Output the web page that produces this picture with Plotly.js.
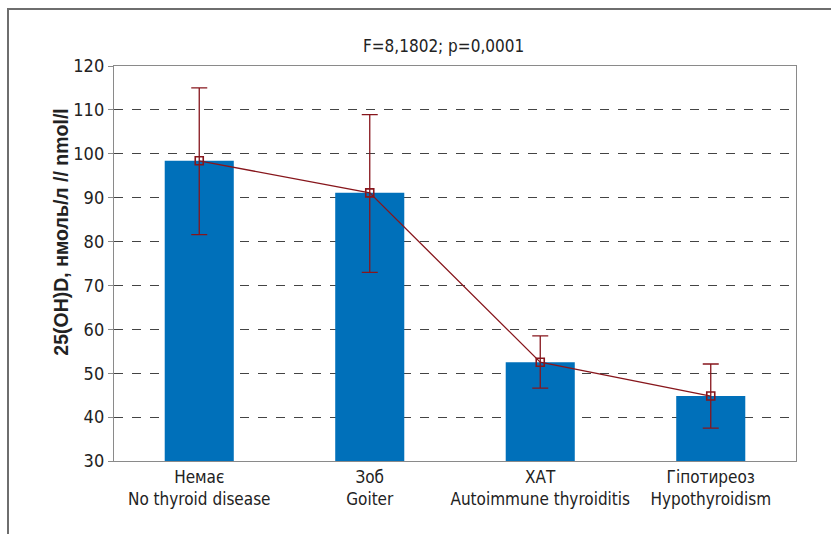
<!DOCTYPE html>
<html>
<head>
<meta charset="utf-8">
<script src="https://cdn.plot.ly/plotly-3.0.1.min.js"></script>
<style>
  html, body { margin: 0; padding: 0; background: #fff; }
  #wrap { position: relative; width: 831px; height: 534px; overflow: hidden; }
  #frame { position: absolute; left: 7px; top: 8px; width: 840px; height: 600px;
           border-top: 2px solid #6e6e6e; border-left: 2px solid #6e6e6e; pointer-events: none; }
  #chart { position: absolute; left: 0; top: 0; width: 831px; height: 534px; }
</style>
</head>
<body>
<div id="wrap">
  <div id="chart"></div>
  <div id="frame"></div>
</div>
<script>
// Groups (Ukrainian / English)
const groupsUa = ['Немає', 'Зоб', 'ХАТ', 'Гіпотиреоз'];
const groupsEn = ['No thyroid disease', 'Goiter', 'Autoimmune thyroiditis', 'Hypothyroidism'];
// Mean 25(OH)D, nmol/l
const means = [98.4, 91.1, 52.5, 44.8];
// Upper and lower limits of the error bars
const upper = [115.0, 108.9, 58.5, 52.1];
const lower = [81.6, 73.0, 46.6, 37.5];
const yTicks = [30, 40, 50, 60, 70, 80, 90, 100, 110, 120];
const yTitle = '25(OH)D, нмоль/л // nmol/l';
const statText = 'F=8,1802; p=0,0001';

const labels = groupsUa.map((u, i) => u + '<br>' + groupsEn[i]);
const errPlus = upper.map((v, i) => v - means[i]);
const errMinus = means.map((v, i) => v - lower[i]);

const red = 'rgb(135,22,28)';
const narrow = '"Liberation Sans Narrow", "DejaVu Sans Condensed", Arial, sans-serif';

const bars = {
  type: 'bar',
  x: labels,
  y: means,
  marker: { color: '#0070ba', line: { width: 0 } },
  hoverinfo: 'skip'
};

const line = {
  type: 'scatter',
  mode: 'lines+markers',
  x: labels,
  y: means,
  line: { color: red, width: 1.3 },
  marker: { symbol: 'square-open', size: 8, color: red, line: { width: 1.6, color: red } },
  error_y: {
    type: 'data', symmetric: false,
    array: errPlus, arrayminus: errMinus,
    color: red, thickness: 1.3, width: 8
  },
  hoverinfo: 'skip'
};

const layout = {
  width: 831, height: 534,
  margin: { l: 114, r: 35, t: 66, b: 73 },
  paper_bgcolor: 'rgba(0,0,0,0)',
  plot_bgcolor: '#fff',
  showlegend: false,
  bargap: 0.595,
  font: { family: narrow, color: '#222' },
  xaxis: {
    type: 'category',
    showline: true, mirror: true, linecolor: '#8a8a8a', linewidth: 1.2,
    showgrid: false, ticks: '',
    tickfont: { family: narrow, size: 17, color: '#222' },
    zeroline: false
  },
  yaxis: {
    range: [30, 120],
    tickvals: yTicks,
    showline: true, mirror: true, linecolor: '#8a8a8a', linewidth: 1.2,
    ticks: 'outside', ticklen: 5, tickcolor: '#8a8a8a', tickwidth: 1,
    showgrid: true, gridcolor: '#444', griddash: 'dash', gridwidth: 1,
    zeroline: false,
    tickfont: { family: narrow, size: 18, color: '#222' }
  },
  annotations: [
    {
      text: statText,
      xref: 'paper', yref: 'paper',
      x: 0.483, y: 1.051, xanchor: 'center', yanchor: 'middle',
      showarrow: false,
      font: { family: narrow, size: 17, color: '#222' }
    },
    {
      // vertical axis title, placed a little above the plot's centre
      text: '<b>' + yTitle + '</b>',
      xref: 'paper', yref: 'paper',
      x: -0.078, y: 0.58, xanchor: 'center', yanchor: 'middle',
      textangle: -90,
      showarrow: false,
      font: { family: '"Liberation Sans", Arial, sans-serif', size: 19.5, color: '#222' }
    }
  ]
};

Plotly.newPlot('chart', [bars, line], layout, { displayModeBar: false, staticPlot: true });
</script>
</body>
</html>
